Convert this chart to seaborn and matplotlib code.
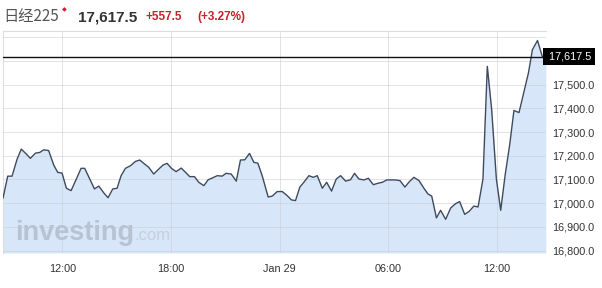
import matplotlib
matplotlib.use("Agg")
import matplotlib.pyplot as plt
import seaborn as sns
import pandas as pd

# ---- data (hours since Jan 28 00:00, index value) ----
hours = [8.72, 8.98, 9.22, 9.50, 9.73, 10.01, 10.23, 10.51, 10.75, 10.97, 11.24, 11.52, 11.74, 11.98,
         12.22, 12.48, 12.77, 13.03, 13.23, 13.51, 13.77, 14.01, 14.28, 14.52, 14.78, 15.02, 15.24,
         15.48, 15.76, 16.03, 16.27, 16.49, 16.77, 17.04, 17.32, 17.56, 17.78, 18.02, 18.28, 18.56,
         18.80, 19.03, 19.29, 19.53, 19.81, 20.05, 20.27, 20.55, 20.82, 21.04, 21.32, 21.60, 21.83,
         22.07, 22.33, 22.57, 22.79, 23.03, 23.36, 23.59, 23.86, 24.14, 24.41, 24.64, 24.87, 25.11,
         25.33, 25.61, 25.85, 26.07, 26.35, 26.59, 26.86, 27.12, 27.36, 27.64, 27.91, 28.13, 28.37,
         28.65, 28.89, 29.17, 29.42, 29.66, 29.90, 30.16, 30.40, 30.64, 30.91, 31.17, 31.41, 31.69,
         31.96, 32.18, 32.39, 32.65, 32.88, 33.16, 33.44, 33.71, 33.93, 34.21, 34.45, 34.72, 34.95,
         35.22, 35.46, 35.70, 35.96, 36.20, 36.44, 36.70, 36.93, 37.21, 37.49, 37.73, 37.95, 38.23,
         38.50, 38.69]
values = [17021, 17114, 17114, 17186, 17228, 17207, 17189, 17211, 17214, 17225, 17222, 17161, 17130, 17127,
          17063, 17053, 17102, 17147, 17147, 17102, 17060, 17072, 17044, 17023, 17060, 17063, 17116,
          17147, 17158, 17176, 17182, 17168, 17151, 17123, 17144, 17161, 17168, 17147, 17133, 17148,
          17130, 17112, 17112, 17088, 17074, 17099, 17106, 17116, 17114, 17126, 17123, 17093, 17182,
          17183, 17210, 17172, 17169, 17116, 17026, 17030, 17049, 17049, 17032, 17014, 17011, 17068,
          17088, 17116, 17109, 17116, 17063, 17088, 17051, 17102, 17116, 17093, 17099, 17126, 17102,
          17098, 17105, 17078, 17084, 17088, 17098, 17098, 17098, 17095, 17068, 17092, 17109, 17095,
          17063, 17039, 17030, 16938, 16970, 16932, 16980, 16998, 17007, 16953, 16965, 16988, 16984,
          17102, 17577, 17395, 17102, 16970, 17116, 17249, 17391, 17382, 17472, 17549, 17647, 17686,
          17617.5, 17617.5]

last_price = 17617.5
x_ticks = [12, 18, 24, 30, 36]
x_tick_labels = ["12:00", "18:00", "Jan 29", "06:00", "12:00"]
y_ticks = [16800, 16900, 17000, 17100, 17200, 17300, 17400, 17500, 17600, 17700]
y_tick_labels = ["16,800.0", "16,900.0", "17,000.0", "17,100.0", "17,200.0",
                 "17,300.0", "17,400.0", "17,500.0", "", ""]
title_name = "日经225"
title_price = "17,617.5"
title_change = "+557.5"
title_pct = "(+3.27%)"

df = pd.DataFrame({"hour": hours, "value": values})

sns.set_theme(style="white")
plt.rcParams["font.family"] = ["Liberation Sans", "DejaVu Sans"]

fig = plt.figure(figsize=(6.02, 2.88), dpi=100)
W, H = 602, 288
ax = fig.add_axes([3 / W, 1 - 253 / H, 543 / W, 222 / H])

ymin, ymax = 16790, 17726
ax.set_xlim(8.72, 38.70)
ax.set_ylim(ymin, ymax)

ax.fill_between(df["hour"], df["value"], ymin, color="#d7e7f9", zorder=1, linewidth=0)
sns.lineplot(data=df, x="hour", y="value", ax=ax, color="#3e4a5e", linewidth=1.0, zorder=3)

ax.set_xticks(x_ticks)
ax.set_xticklabels(x_tick_labels)
ax.set_yticks(y_ticks)
ax.set_yticklabels(y_tick_labels)
ax.yaxis.tick_right()
ax.tick_params(axis="y", length=0, pad=4.5, labelsize=7.8, labelcolor="#333333")
ax.tick_params(axis="x", length=0, pad=8, labelsize=7.8, labelcolor="#333333")
ax.set_xlabel("")
ax.set_ylabel("")
ax.grid(True, color="#c8ccd2", linewidth=0.7, alpha=0.55, zorder=2)
ax.set_axisbelow(False)
for line in ax.get_xgridlines() + ax.get_ygridlines():
    line.set_zorder(2)

for s in ["right", "bottom"]:
    ax.spines[s].set_visible(False)
for s in ["left", "top"]:
    ax.spines[s].set_color("#dddddd")
    ax.spines[s].set_linewidth(0.8)

# last price line and tag
ax.axhline(last_price, color="#111111", linewidth=1.0, zorder=4)
ax.text(1.0, last_price, " " + title_price, transform=ax.get_yaxis_transform(),
        ha="left", va="center", color="white", fontsize=7.8,
        bbox=dict(boxstyle="square,pad=0.3", facecolor="#000000", edgecolor="none"),
        zorder=5, clip_on=False)

# watermark
fig.text(15 / W, 1 - 240 / H, "investing", fontsize=19.5, fontweight="bold",
         color="#b7c3d3", ha="left", va="baseline", zorder=2)
fig.text(134 / W, 1 - 240 / H, ".com", fontsize=12,
         color="#c6d0dc", ha="left", va="baseline", zorder=2)

# header
fig.text(3 / W, 1 - 17 / H, title_name, fontsize=11, color="#555555",
         family=["Noto Sans CJK SC", "DejaVu Sans"], ha="left", va="center")
fig.text(64 / W, 1 - 10 / H, "◆", fontsize=4.5, color="#d0202a", ha="center", va="center",
         family=["DejaVu Sans"])
fig.text(78 / W, 1 - 17 / H, title_price, fontsize=11, fontweight="bold", color="#333333",
         ha="left", va="center")
fig.text(145 / W, 1 - 17 / H, title_change, fontsize=8.5, fontweight="bold", color="#c8202a",
         ha="left", va="center")
fig.text(197 / W, 1 - 17 / H, title_pct, fontsize=8.5, fontweight="bold", color="#c8202a",
         ha="left", va="center")

fig.savefig("out.png", dpi=100)
